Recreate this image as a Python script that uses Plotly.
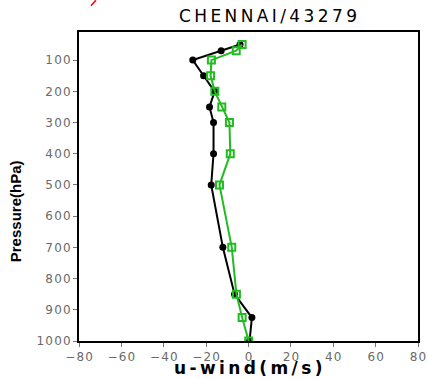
import plotly.graph_objects as go

# pressure levels (hPa)
levels = [50, 70, 100, 150, 200, 250, 300, 400, 500, 700, 850, 925, 1000]

# u-wind (m/s), two profiles
u_black = [-4, -12.9, -26.3, -21.2, -16, -18.4, -16.5, -16.5, -17.6, -12.1, -6.6, 1.6, 0.5]
u_green = [-3, -5.8, -17.5, -17.9, -15.9, -12.6, -9, -8.6, -13.7, -7.9, -5.7, -3, 0.1]

xticks = [-80, -60, -40, -20, 0, 20, 40, 60, 80]
yticks = [100, 200, 300, 400, 500, 600, 700, 800, 900, 1000]

# wide look of the original font: narrow spaces between characters
def spaced(s, sep="\u2009"):
    return sep.join(s)

fig = go.Figure()
fig.add_trace(go.Scatter(
    x=u_black, y=levels, mode="lines+markers",
    line=dict(color="black", width=2),
    marker=dict(symbol="circle", size=7, color="black"),
    showlegend=False))
fig.add_trace(go.Scatter(
    x=u_green, y=levels, mode="lines+markers",
    line=dict(color="#22bb22", width=2),
    marker=dict(symbol="square-open", size=7, color="#22bb22", line=dict(width=2)),
    showlegend=False))

axis_common = dict(showgrid=False, zeroline=False, showline=True, mirror=True,
                   linecolor="black", linewidth=2, ticks="outside", ticklen=4,
                   tickcolor="#777", tickfont=dict(family="DejaVu Sans", size=12, color="#6a6a6a"))

fig.update_xaxes(range=[-80, 80], tickvals=xticks, automargin=False,
                 ticktext=[spaced(str(t).replace("-", "\u2212"), "\u200a") for t in xticks],
                 **axis_common)
fig.update_yaxes(range=[1000, 10], tickvals=yticks, automargin=False,
                 ticktext=[spaced(str(t), "\u200a") for t in yticks], **axis_common)

fig.update_layout(
    autosize=False, width=428, height=379,
    margin=dict(l=79, r=10, t=32, b=38, autoexpand=False),
    plot_bgcolor="white", paper_bgcolor="white",
)

fig.add_annotation(text=spaced("CHENNAI/43279"), xref="paper", yref="paper",
                   x=0.558, y=1.0, yshift=16, xanchor="center", yanchor="middle", showarrow=False,
                   font=dict(family="DejaVu Sans", size=17, color="black"))
fig.add_annotation(text="<b>" + spaced("u-wind(m/s)") + "</b>", xref="paper", yref="paper",
                   x=0.5, y=0, yshift=-27, xanchor="center", yanchor="middle", showarrow=False,
                   font=dict(family="DejaVu Sans", size=17, color="black"))
fig.add_annotation(text="<b>Pressure(hPa)</b>", xref="paper", yref="paper",
                   x=0, xshift=-64, y=0.42, textangle=-90, xanchor="center", yanchor="middle",
                   showarrow=False,
                   font=dict(family="Liberation Sans Narrow, Arial Narrow, sans-serif",
                             size=15, color="black"))

# small red stroke at the top left of the original
fig.add_shape(type="line", xref="paper", yref="paper", x0=0.035, y0=1.085, x1=0.05, y1=1.103,
              line=dict(color="red", width=1.5))

fig.write_html("out.html", config={"displayModeBar": False, "responsive": False},
               post_script="document.body.style.margin='0';")
